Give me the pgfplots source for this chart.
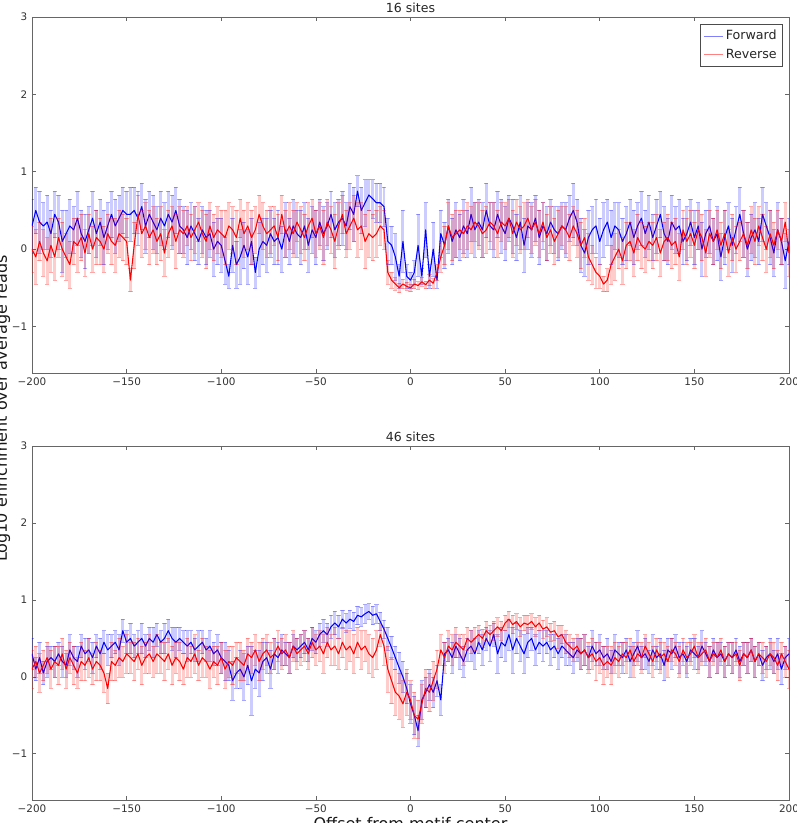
\documentclass[border=0pt]{standalone}
\usepackage{fontspec}
\setmainfont{DejaVu Sans}
\usepackage{pgfplots}
\usepackage{pgfplotstable}
\pgfplotsset{compat=1.18}

% x  fy  fe  ry  re   (16 sites)
\pgfplotstableread{
x fy fe ry re
-200 0.30 0.35 0.00 0.30
-198 0.50 0.30 -0.10 0.35
-196 0.35 0.40 0.10 0.25
-194 0.30 0.30 -0.05 0.30
-192 0.35 0.35 -0.15 0.30
-190 0.20 0.30 0.05 0.35
-188 0.45 0.30 -0.10 0.30
-186 0.35 0.35 0.15 0.25
-184 0.10 0.40 0.00 0.35
-182 0.20 0.30 -0.10 0.30
-180 0.30 0.35 -0.20 0.30
-178 0.25 0.30 0.10 0.30
-176 0.40 0.35 0.05 0.35
-174 0.20 0.30 0.15 0.30
-172 0.10 0.35 -0.05 0.30
-170 0.25 0.30 0.20 0.25
-168 0.40 0.35 0.00 0.30
-166 0.20 0.30 0.15 0.35
-164 0.35 0.30 0.10 0.30
-162 0.15 0.35 0.00 0.30
-160 0.30 0.30 0.20 0.25
-158 0.45 0.30 0.10 0.30
-156 0.30 0.35 0.05 0.35
-154 0.40 0.30 0.20 0.30
-152 0.50 0.30 0.15 0.30
-150 0.45 0.30 0.10 0.30
-148 0.45 0.35 -0.40 0.15
-146 0.50 0.30 0.05 0.30
-144 0.40 0.35 0.45 0.25
-142 0.55 0.30 0.20 0.30
-140 0.30 0.35 0.30 0.30
-138 0.45 0.30 0.15 0.35
-136 0.35 0.35 0.25 0.30
-134 0.25 0.30 0.10 0.30
-132 0.40 0.35 0.20 0.35
-130 0.30 0.30 -0.05 0.30
-128 0.45 0.30 0.20 0.30
-126 0.35 0.35 0.30 0.25
-124 0.50 0.30 0.10 0.35
-122 0.30 0.35 0.25 0.30
-120 0.25 0.30 0.20 0.30
-118 0.15 0.35 0.30 0.25
-116 0.30 0.30 0.15 0.30
-114 0.20 0.35 0.25 0.30
-112 0.10 0.30 0.35 0.25
-110 0.25 0.30 0.20 0.30
-108 0.15 0.35 0.10 0.35
-106 0.20 0.30 0.30 0.30
-104 0.00 0.35 0.15 0.30
-102 0.10 0.30 0.25 0.30
-100 0.05 0.35 0.20 0.30
-98 -0.15 0.30 0.15 0.35
-96 -0.35 0.15 0.30 0.30
-94 0.05 0.35 0.25 0.30
-92 -0.20 0.30 0.15 0.35
-90 -0.10 0.35 0.40 0.25
-88 0.05 0.30 0.20 0.30
-86 -0.10 0.35 0.30 0.30
-84 0.10 0.30 0.15 0.35
-82 -0.30 0.20 0.25 0.30
-80 0.00 0.35 0.45 0.25
-78 0.10 0.30 0.30 0.30
-76 0.05 0.35 0.20 0.30
-74 0.20 0.30 0.25 0.30
-72 0.10 0.30 0.30 0.25
-70 0.15 0.35 0.15 0.30
-68 0.00 0.30 0.45 0.25
-66 0.25 0.35 0.20 0.30
-64 0.10 0.30 0.30 0.30
-62 0.30 0.35 0.20 0.30
-60 0.20 0.30 0.35 0.25
-58 0.15 0.35 0.25 0.30
-56 0.30 0.30 0.15 0.30
-54 0.05 0.35 0.30 0.30
-52 0.25 0.30 0.40 0.25
-50 0.15 0.35 0.20 0.30
-48 0.35 0.30 0.30 0.30
-46 0.20 0.35 0.15 0.35
-44 0.30 0.30 0.35 0.30
-42 0.45 0.30 0.25 0.30
-40 0.25 0.35 0.10 0.35
-38 0.35 0.30 0.30 0.30
-36 0.40 0.35 0.45 0.25
-34 0.30 0.30 0.20 0.30
-32 0.55 0.30 0.30 0.30
-30 0.45 0.35 0.40 0.30
-28 0.75 0.20 0.25 0.35
-26 0.50 0.30 0.30 0.30
-24 0.60 0.30 0.10 0.35
-22 0.70 0.20 0.20 0.30
-20 0.65 0.25 0.15 0.30
-18 0.60 0.25 0.20 0.30
-16 0.60 0.25 0.30 0.25
-14 0.55 0.25 0.25 0.25
-12 0.10 0.30 -0.30 0.15
-10 0.05 0.25 -0.40 0.10
-8 -0.10 0.30 -0.45 0.08
-6 -0.35 0.15 -0.50 0.06
-4 0.10 0.40 -0.45 0.06
-2 -0.35 0.15 -0.48 0.05
0 -0.40 0.10 -0.50 0.05
2 -0.30 0.15 -0.45 0.06
4 0.05 0.40 -0.47 0.05
6 -0.35 0.10 -0.42 0.06
8 0.25 0.35 -0.46 0.05
10 -0.35 0.15 -0.40 0.07
12 0.00 0.35 -0.44 0.06
14 -0.40 0.10 -0.30 0.10
16 0.20 0.30 -0.10 0.20
18 0.05 0.30 0.05 0.25
20 0.30 0.35 0.30 0.30
22 0.10 0.30 0.15 0.30
24 0.25 0.35 0.20 0.30
26 0.15 0.30 0.25 0.25
28 0.30 0.35 0.20 0.30
30 0.20 0.30 0.30 0.30
32 0.45 0.35 0.25 0.30
34 0.25 0.35 0.35 0.25
36 0.35 0.30 0.30 0.30
38 0.25 0.35 0.20 0.30
40 0.50 0.35 0.25 0.30
42 0.30 0.30 0.35 0.25
44 0.25 0.35 0.30 0.30
46 0.45 0.30 0.20 0.30
48 0.30 0.35 0.35 0.25
50 0.20 0.35 0.30 0.30
52 0.40 0.30 0.40 0.25
54 0.30 0.35 0.20 0.30
56 0.15 0.30 0.35 0.30
58 0.35 0.35 0.25 0.30
60 0.05 0.35 0.30 0.30
62 0.30 0.30 0.40 0.25
64 0.25 0.35 0.25 0.30
66 0.40 0.30 0.35 0.30
68 0.15 0.35 0.20 0.30
70 0.30 0.30 0.35 0.25
72 0.20 0.35 0.15 0.30
74 0.35 0.30 0.25 0.30
76 0.25 0.30 0.10 0.30
78 0.20 0.35 0.20 0.30
80 0.30 0.30 0.30 0.25
82 0.25 0.35 0.25 0.30
84 0.40 0.30 0.15 0.30
86 0.50 0.35 0.30 0.25
88 0.35 0.30 0.20 0.30
90 0.05 0.35 0.05 0.30
92 -0.05 0.30 0.15 0.25
94 0.15 0.35 -0.10 0.30
96 0.25 0.30 -0.20 0.25
98 0.30 0.35 -0.30 0.20
100 0.10 0.30 -0.35 0.15
102 0.25 0.35 -0.45 0.10
104 0.35 0.30 -0.40 0.15
106 0.15 0.35 -0.20 0.25
108 0.30 0.30 -0.10 0.30
110 0.25 0.35 0.00 0.25
112 0.10 0.30 -0.15 0.30
114 0.20 0.35 0.05 0.30
116 0.35 0.30 0.10 0.25
118 0.15 0.35 -0.05 0.30
120 0.30 0.30 0.15 0.30
122 0.40 0.35 0.05 0.30
124 0.20 0.30 0.00 0.30
126 0.35 0.35 0.10 0.25
128 0.15 0.30 0.05 0.30
130 0.30 0.35 0.15 0.30
132 0.45 0.30 -0.05 0.30
134 0.20 0.35 0.10 0.25
136 0.10 0.30 0.15 0.30
138 0.35 0.35 0.05 0.30
140 0.25 0.30 0.10 0.30
142 0.30 0.35 -0.10 0.30
144 0.10 0.30 0.25 0.25
146 0.20 0.35 0.10 0.30
148 0.35 0.30 0.20 0.30
150 0.15 0.35 0.05 0.30
152 0.30 0.30 0.25 0.25
154 0.00 0.35 0.15 0.30
156 0.20 0.30 -0.05 0.30
158 0.30 0.35 0.20 0.30
160 0.10 0.30 0.10 0.30
162 0.20 0.35 0.25 0.25
164 -0.10 0.30 0.05 0.30
166 0.15 0.35 0.20 0.30
168 0.30 0.30 -0.05 0.30
170 0.05 0.35 0.15 0.30
172 0.25 0.30 0.00 0.30
174 0.45 0.35 0.10 0.25
176 0.20 0.30 0.20 0.30
178 0.00 0.35 0.05 0.30
180 0.15 0.30 0.25 0.30
182 0.25 0.35 0.10 0.30
184 0.10 0.30 0.30 0.25
186 0.45 0.35 0.15 0.30
188 0.30 0.30 0.00 0.30
190 0.15 0.35 0.20 0.30
192 -0.05 0.30 0.05 0.30
194 0.25 0.35 0.25 0.25
196 0.10 0.30 0.10 0.30
198 -0.15 0.35 0.35 0.25
200 0.10 0.30 -0.05 0.30
}\toptab

% x  fy  fe  ry  re   (46 sites)
\pgfplotstableread{
x fy fe ry re
-200 0.30 0.20 0.10 0.25
-198 0.10 0.15 0.20 0.20
-196 0.25 0.20 0.05 0.25
-194 0.05 0.15 0.15 0.20
-192 0.20 0.20 0.25 0.20
-190 0.25 0.15 0.10 0.25
-188 0.20 0.20 0.20 0.20
-186 0.30 0.15 0.15 0.25
-184 0.20 0.20 0.30 0.20
-182 0.15 0.15 0.10 0.25
-180 0.35 0.20 0.25 0.20
-178 0.25 0.15 0.15 0.25
-176 0.20 0.20 0.05 0.20
-174 0.40 0.15 0.20 0.25
-172 0.30 0.20 0.15 0.20
-170 0.35 0.15 0.25 0.25
-168 0.25 0.20 0.10 0.20
-166 0.40 0.15 0.20 0.25
-164 0.30 0.20 0.15 0.20
-162 0.45 0.15 0.05 0.25
-160 0.35 0.20 -0.15 0.20
-158 0.40 0.15 0.20 0.25
-156 0.45 0.15 0.15 0.20
-154 0.35 0.20 0.25 0.25
-152 0.60 0.15 0.20 0.20
-150 0.45 0.15 0.30 0.25
-148 0.50 0.20 0.25 0.20
-146 0.40 0.15 0.20 0.25
-144 0.45 0.15 0.30 0.20
-142 0.50 0.20 0.15 0.25
-140 0.40 0.15 0.25 0.20
-138 0.50 0.15 0.30 0.25
-136 0.45 0.20 0.20 0.20
-134 0.55 0.15 0.30 0.25
-132 0.45 0.15 0.25 0.20
-130 0.50 0.20 0.20 0.25
-128 0.60 0.15 0.30 0.20
-126 0.50 0.15 0.15 0.25
-124 0.45 0.20 0.25 0.20
-122 0.50 0.15 0.20 0.25
-120 0.45 0.15 0.10 0.20
-118 0.40 0.20 0.25 0.25
-116 0.45 0.15 0.20 0.20
-114 0.35 0.15 0.30 0.25
-112 0.40 0.20 0.15 0.20
-110 0.45 0.15 0.25 0.25
-108 0.35 0.15 0.20 0.20
-106 0.40 0.20 0.10 0.25
-104 0.30 0.15 0.20 0.20
-102 0.35 0.20 0.15 0.25
-100 0.25 0.20 0.25 0.20
-98 0.20 0.25 0.10 0.25
-96 0.15 0.20 0.20 0.20
-94 -0.05 0.25 0.15 0.25
-92 0.05 0.20 0.25 0.20
-90 0.10 0.25 0.20 0.25
-88 0.00 0.30 0.15 0.20
-86 0.15 0.25 0.30 0.20
-84 -0.05 0.45 0.25 0.20
-82 0.10 0.25 0.35 0.20
-80 0.05 0.30 0.20 0.25
-78 0.20 0.25 0.30 0.20
-76 0.25 0.20 0.35 0.20
-74 0.10 0.25 0.25 0.20
-72 0.30 0.20 0.30 0.20
-70 0.25 0.20 0.40 0.20
-68 0.35 0.20 0.30 0.20
-66 0.30 0.15 0.35 0.20
-64 0.25 0.20 0.25 0.20
-62 0.40 0.15 0.40 0.20
-60 0.35 0.15 0.30 0.20
-58 0.40 0.15 0.35 0.20
-56 0.45 0.15 0.40 0.20
-54 0.35 0.15 0.30 0.20
-52 0.50 0.15 0.45 0.20
-50 0.45 0.15 0.35 0.20
-48 0.55 0.15 0.40 0.20
-46 0.60 0.15 0.30 0.25
-44 0.55 0.15 0.45 0.20
-42 0.65 0.15 0.35 0.20
-40 0.70 0.15 0.40 0.25
-38 0.65 0.15 0.30 0.20
-36 0.75 0.12 0.45 0.20
-34 0.70 0.12 0.35 0.25
-32 0.75 0.12 0.40 0.20
-30 0.72 0.12 0.30 0.25
-28 0.80 0.12 0.45 0.20
-26 0.78 0.12 0.35 0.25
-24 0.82 0.12 0.40 0.20
-22 0.85 0.10 0.30 0.25
-20 0.80 0.12 0.25 0.25
-18 0.82 0.12 0.35 0.25
-16 0.72 0.12 0.55 0.15
-14 0.62 0.12 0.40 0.25
-12 0.50 0.15 0.10 0.30
-10 0.38 0.15 -0.05 0.30
-8 0.25 0.15 -0.20 0.30
-6 0.12 0.20 -0.25 0.30
-4 0.00 0.20 -0.35 0.30
-2 -0.15 0.20 -0.20 0.30
0 -0.35 0.25 -0.30 0.25
2 -0.50 0.25 -0.50 0.30
4 -0.70 0.20 -0.55 0.25
6 -0.30 0.25 -0.35 0.25
8 -0.20 0.20 -0.15 0.25
10 -0.10 0.20 -0.20 0.25
12 -0.20 0.20 -0.05 0.25
14 -0.05 0.20 0.10 0.25
16 -0.30 0.20 0.35 0.20
18 0.30 0.15 0.25 0.20
20 0.35 0.15 0.40 0.20
22 0.25 0.20 0.35 0.20
24 0.40 0.15 0.45 0.20
26 0.30 0.20 0.40 0.15
28 0.20 0.20 0.35 0.20
30 0.35 0.15 0.50 0.15
32 0.40 0.20 0.45 0.15
34 0.30 0.20 0.50 0.15
36 0.45 0.15 0.55 0.12
38 0.35 0.20 0.50 0.12
40 0.50 0.15 0.60 0.12
42 0.40 0.20 0.55 0.12
44 0.55 0.15 0.60 0.12
46 0.30 0.25 0.65 0.12
48 0.45 0.20 0.60 0.12
50 0.40 0.20 0.70 0.10
52 0.55 0.20 0.75 0.10
54 0.35 0.30 0.68 0.12
56 0.50 0.20 0.72 0.10
58 0.40 0.20 0.65 0.12
60 0.30 0.25 0.70 0.10
62 0.45 0.20 0.68 0.12
64 0.50 0.15 0.72 0.10
66 0.35 0.20 0.65 0.12
68 0.45 0.15 0.70 0.10
70 0.40 0.20 0.62 0.12
72 0.45 0.15 0.65 0.12
74 0.35 0.20 0.58 0.12
76 0.40 0.15 0.60 0.12
78 0.30 0.20 0.52 0.15
80 0.40 0.15 0.55 0.12
82 0.35 0.20 0.45 0.15
84 0.30 0.15 0.40 0.15
86 0.25 0.20 0.35 0.15
88 0.35 0.15 0.40 0.15
90 0.30 0.20 0.30 0.20
92 0.35 0.20 0.35 0.20
94 0.25 0.15 0.25 0.20
96 0.40 0.20 0.30 0.20
98 0.30 0.15 0.20 0.25
100 0.35 0.20 0.25 0.20
102 0.25 0.15 0.15 0.25
104 0.30 0.20 0.20 0.20
106 0.20 0.15 0.15 0.25
108 0.35 0.20 0.25 0.20
110 0.30 0.15 0.20 0.20
112 0.25 0.20 0.30 0.15
114 0.35 0.15 0.25 0.20
116 0.20 0.20 0.35 0.15
118 0.30 0.15 0.20 0.20
120 0.40 0.20 0.30 0.15
122 0.25 0.15 0.25 0.20
124 0.30 0.20 0.40 0.15
126 0.20 0.15 0.30 0.15
128 0.35 0.20 0.20 0.20
130 0.25 0.15 0.35 0.15
132 0.30 0.20 0.25 0.20
134 0.15 0.20 0.30 0.15
136 0.35 0.15 0.20 0.20
138 0.30 0.20 0.35 0.15
140 0.40 0.15 0.30 0.15
142 0.25 0.20 0.20 0.20
144 0.30 0.15 0.35 0.15
146 0.20 0.20 0.25 0.20
148 0.35 0.15 0.30 0.15
150 0.30 0.20 0.40 0.15
152 0.25 0.15 0.25 0.20
154 0.40 0.20 0.30 0.15
156 0.30 0.15 0.35 0.15
158 0.20 0.20 0.20 0.20
160 0.35 0.15 0.30 0.15
162 0.25 0.20 0.25 0.20
164 0.30 0.15 0.35 0.15
166 0.20 0.20 0.20 0.20
168 0.30 0.15 0.30 0.15
170 0.25 0.20 0.25 0.20
172 0.35 0.15 0.30 0.15
174 0.20 0.20 0.15 0.20
176 0.30 0.15 0.30 0.15
178 0.25 0.20 0.25 0.20
180 0.35 0.15 0.35 0.15
182 0.20 0.20 0.20 0.20
184 0.30 0.15 0.30 0.15
186 0.15 0.20 0.25 0.20
188 0.25 0.15 0.20 0.20
190 0.30 0.20 0.30 0.15
192 0.20 0.15 0.25 0.20
194 0.30 0.20 0.15 0.20
196 0.10 0.20 0.30 0.15
198 0.25 0.15 0.20 0.20
200 0.30 0.20 0.10 0.25
}\bottab

\pgfplotsset{
  myax/.style={
    scale only axis, width=567.75pt, height=267pt,
    xmin=-200, xmax=200, ymin=-1.6, ymax=3,
    xtick={-200,-150,-100,-50,0,50,100,150,200},
    xticklabels={−200,−150,−100,−50,0,50,100,150,200},
    ytick={-1,0,1,2,3},
    yticklabels={−1,0,1,2,3},
    axis line style={black!60, line width=0.7pt},
    tick style={black!60, line width=0.5pt},
    major tick length=3pt,
    tick align=inside,
    tick label style={font=\fontsize{7.8}{9}\selectfont, text=black!80},
    title style={font=\fontsize{9.4}{11}\selectfont, text=black!85, yshift=-6.5pt},
    every axis plot/.append style={line join=round},
  },
  ebar/.style={
    error bars/.cd, y dir=both, y explicit,
    error bar style={draw=#1, draw opacity=0.2, line width=2.2pt},
    error mark options={rotate=90, draw=#1, draw opacity=0.35, mark size=1.6pt, line width=0.5pt},
  },
}

\begin{document}
\begin{tikzpicture}
\begin{axis}[myax, at={(0,0)}, anchor=north west, title={16 sites},
  legend style={at={(1,1)}, anchor=north east, xshift=-4.5pt, yshift=-5.25pt,
    draw=black!70, font=\fontsize{9.5}{11}\selectfont, text=black!85,
    inner sep=2.5pt, row sep=1.5pt},
  legend cell align=left,
  legend image code/.code={\draw[#1] (0pt,0pt) -- (14pt,0pt);}]
\addlegendimage{blue!50, line width=0.8pt}
\addlegendentry{Forward}
\addlegendimage{red!50, line width=0.8pt}
\addlegendentry{Reverse}
\addplot[blue, line width=0.8pt, forget plot, ebar=blue] table[x=x, y=fy, y error=fe] {\toptab};
\addplot[red, line width=0.8pt, forget plot, ebar=red] table[x=x, y=ry, y error=re] {\toptab};
\end{axis}

\begin{axis}[myax, height=265.5pt, at={(0,-321.75pt)}, anchor=north west, title={46 sites}]
\addplot[blue, line width=0.8pt, forget plot, ebar=blue] table[x=x, y=fy, y error=fe] {\bottab};
\addplot[red, line width=0.8pt, forget plot, ebar=red] table[x=x, y=ry, y error=re] {\bottab};
\end{axis}

\node[rotate=90, anchor=base, font=\fontsize{12}{14}\selectfont, text=black!90] at (-18.75pt,-293.6pt) {Log10 enrichment over average reads};
\node[anchor=north, inner sep=0pt, font=\fontsize{12}{14}\selectfont, text=black!90] at (283.9pt,-600.4pt) {Offset from motif center};

\pgfresetboundingbox
\useasboundingbox (-24pt,12.75pt) rectangle (573pt,-604.5pt);
\end{tikzpicture}
\end{document}
